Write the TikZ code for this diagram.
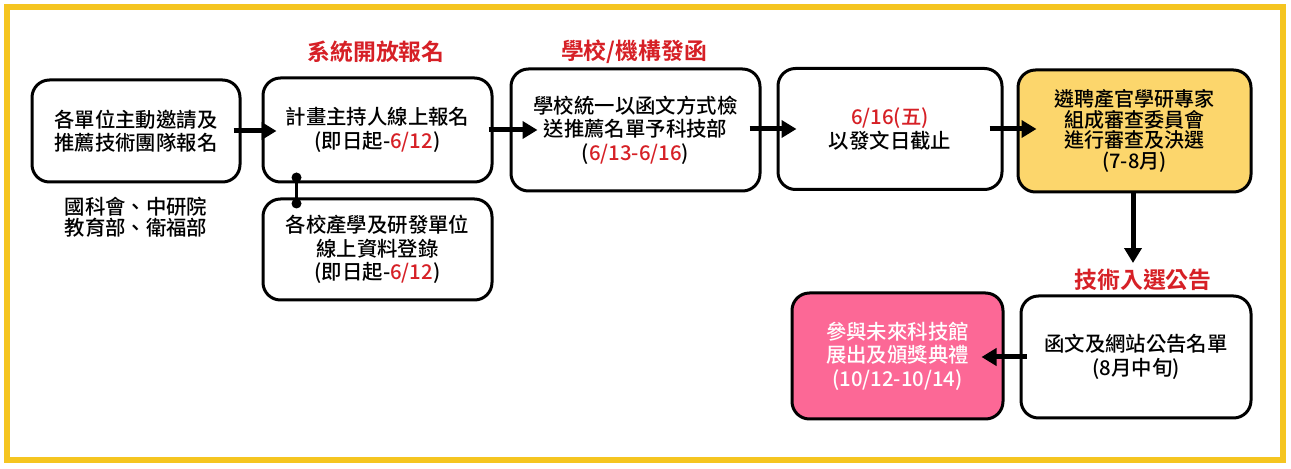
\documentclass[tikz,border=0pt]{standalone}
\usepackage{fontspec}
\newfontfamily\cjk{Noto Sans CJK TC Medium}[BoldFont=Noto Sans CJK TC Bold]
\usetikzlibrary{arrows.meta}
\definecolor{framegold}{RGB}{245,197,32}
\definecolor{reviewgold}{RGB}{252,214,108}
\definecolor{expopink}{RGB}{252,104,150}
\definecolor{datered}{RGB}{214,32,38}
\newcommand{\datetxt}[1]{\textcolor{datered}{#1}}

\begin{document}
\begin{tikzpicture}[
    stagebox/.style={draw=black, line width=0.06cm, rounded corners=0.35cm, align=center,
                     inner sep=0pt, font=\cjk\fontsize{11.6}{13.4}\selectfont},
    phaselabel/.style={text=datered, font=\cjk\bfseries\fontsize{13}{15}\selectfont},
    flow/.style={line width=0.1cm, -{Triangle[length=0.3cm,width=0.34cm]}},
    link/.style={line width=0.07cm}
  ]
  \useasboundingbox (0,0) rectangle (25.82,9.38);

  % Outer frame
  \draw [framegold, line width=0.12cm] (0.14,0.18) rectangle (25.66,9.24);%

  % Top row of stages
  \node [stagebox, minimum width=4.16cm, minimum height=2.04cm] (unit) at (2.72,6.76)
    {各單位主動邀請及\\推薦技術團隊報名};%
  \node [stagebox, minimum width=4.58cm, minimum height=2.08cm] (apply) at (7.55,6.78)
    {計畫主持人線上報名\\(即日起-\datetxt{6/12})};%
  \node [stagebox, minimum width=4.98cm, minimum height=2.44cm] (school) at (12.71,6.78)
    {學校統一以函文方式檢\\送推薦名單予科技部\\(\datetxt{6/13-6/16})};%
  \node [stagebox, minimum width=4.48cm, minimum height=2.42cm] (deadline) at (17.80,6.80)
    {\datetxt{6/16(五)}\\以發文日截止};%
  \node [stagebox, fill=reviewgold, minimum width=4.66cm, minimum height=2.44cm,
         font=\cjk\fontsize{11.4}{11.8}\selectfont] (review) at (22.69,6.76)
    {遴聘產官學研專家\\組成審查委員會\\進行審查及決選\\(7-8月)};%

  % Second row
  \node [stagebox, minimum width=4.58cm, minimum height=2.02cm] (campus) at (7.55,4.39)
    {各校產學及研發單位\\線上資料登錄\\(即日起-\datetxt{6/12})};%
  \node [stagebox, minimum width=4.60cm, minimum height=2.44cm] (announce) at (22.72,2.24)
    {函文及網站公告名單\\(8月中旬)};%
  \node [stagebox, fill=expopink, text=white, minimum width=4.22cm, minimum height=2.52cm] (expo) at (17.95,2.26)
    {參與未來科技館\\展出及頒獎典禮\\(10/12-10/14)};%

  % Phase labels
  \node [phaselabel] (openlabel) at (7.52,8.34) {系統開放報名};%
  \node [phaselabel] (letterlabel) at (12.68,8.34) {學校/機構發函};%
  \node [phaselabel] (notice) at (22.86,3.78) {技術入選公告};%
  \node [align=center, font=\cjk\fontsize{11.6}{12.2}\selectfont] (agencies) at (2.72,5.04)
    {國科會、中研院\\教育部、衛福部};%

  % Flow arrows
  \draw [flow, shorten <=-0.16cm, shorten >=-0.3cm] (unit.east) -- (unit.east -| apply.west);%
  \draw [flow, shorten <=-0.1cm, shorten >=-0.56cm] (apply.east) -- (apply.east -| school.west);%
  \draw [flow, shorten <=-0.24cm, shorten >=-0.4cm] ([yshift=0.02cm]school.east) -- ([yshift=0.02cm]school.east -| deadline.west);%
  \draw [flow, shorten <=-0.28cm, shorten >=-0.4cm] (deadline.east) -- (deadline.east -| review.west);%
  \draw [flow] ([xshift=-0.03cm]review.south) -- ([xshift=-0.03cm]review.south |- notice.north);%
  \draw [flow, shorten <=-0.14cm, shorten >=-0.46cm] (announce.west) -- (announce.west -| expo.east);%

  % Link between online registration and campus entry
  \coordinate (linktop) at ([shift={(0.7,0.12)}]apply.south west);
  \coordinate (linkbot) at ([shift={(0.7,-0.12)}]campus.north west);
  \draw [link] (linktop) -- (linkbot);%
  \fill (linktop) circle (0.1);%
  \fill (linkbot) circle (0.1);%
\end{tikzpicture}
\end{document}
